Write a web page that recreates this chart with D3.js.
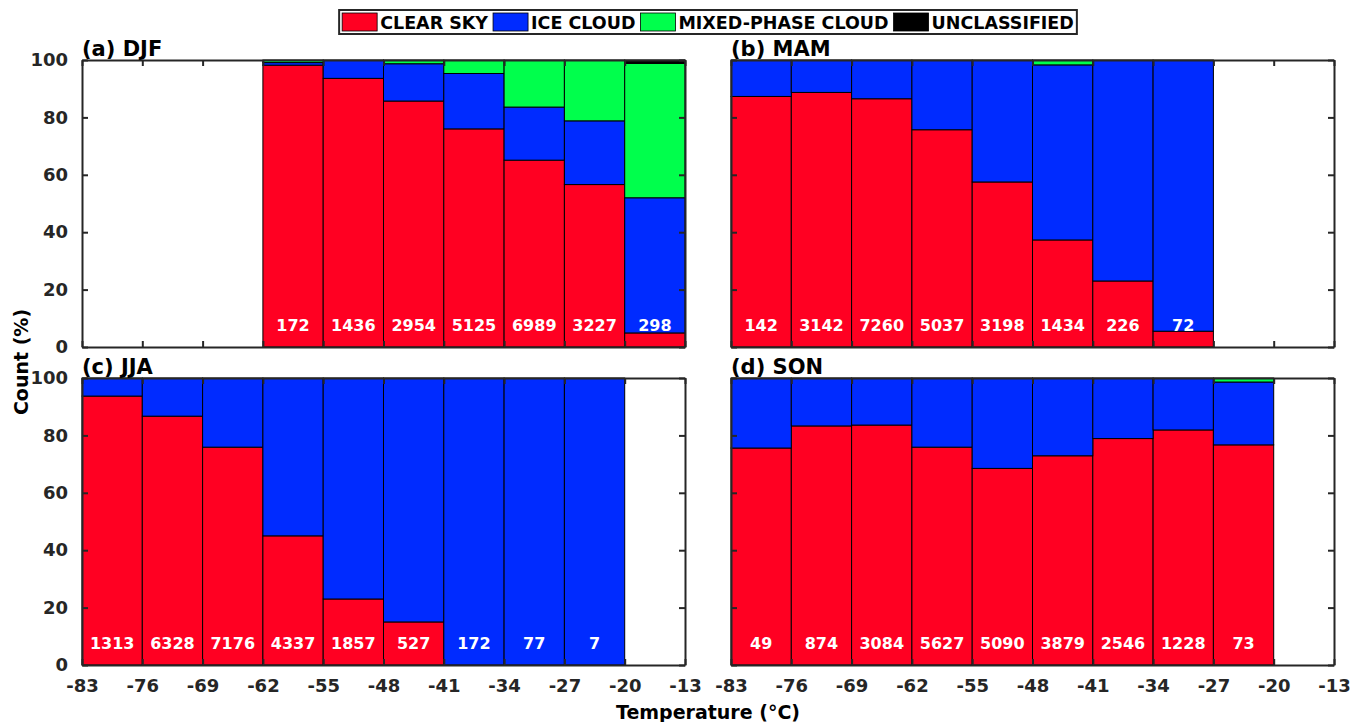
<!DOCTYPE html>
<html>
<head>
<meta charset="utf-8">
<script src="https://cdn.jsdelivr.net/npm/d3@7"></script>
<style>
  html, body { margin: 0; padding: 0; background: #fff; }
  svg { display: block; font-family: "DejaVu Sans", sans-serif; font-weight: bold; }
</style>
</head>
<body>
<svg id="chart" width="1354" height="722"></svg>
<script>
// ---- data ----
const binStarts = [-83, -76, -69, -62, -55, -48, -41, -34, -27, -20];
const binWidth = 7;
const xTicks = [-83, -76, -69, -62, -55, -48, -41, -34, -27, -20, -13];
const xTickLabels = ["-83", "-76", "-69", "-62", "-55", "-48", "-41", "-34", "-27", "-20", "-13"];
const yTicks = [0, 20, 40, 60, 80, 100];
const categories = ["CLEAR SKY", "ICE CLOUD", "MIXED-PHASE CLOUD", "UNCLASSIFIED"];
const colors = ["#ff0022", "#002bff", "#00ff4c", "#000000"];
const seasonTitles = ["(a) DJF", "(b) MAM", "(c) JJA", "(d) SON"];

const djfClear   = [0, 0, 0, 98.2, 93.6, 85.7, 76.0, 65.1, 56.6, 4.9];
const djfIce     = [0, 0, 0, 0.9, 6.4, 13.0, 19.3, 18.5, 22.2, 47.1];
const djfMixed   = [0, 0, 0, 0.9, 0, 1.3, 4.7, 16.4, 21.2, 46.8];
const djfUncl    = [0, 0, 0, 0, 0, 0, 0, 0, 0, 1.2];
const djfCounts  = [null, null, null, 172, 1436, 2954, 5125, 6989, 3227, 298];

const mamClear   = [87.3, 88.7, 86.5, 75.7, 57.5, 37.3, 23.0, 5.5, 0, 0];
const mamIce     = [12.7, 11.3, 13.5, 24.3, 42.5, 61.0, 77.0, 94.5, 0, 0];
const mamMixed   = [0, 0, 0, 0, 0, 1.7, 0, 0, 0, 0];
const mamUncl    = [0, 0, 0, 0, 0, 0, 0, 0, 0, 0];
const mamCounts  = [142, 3142, 7260, 5037, 3198, 1434, 226, 72, null, null];

const jjaClear   = [93.7, 86.7, 75.9, 45.0, 23.0, 15.0, 0, 0, 0, 0];
const jjaIce     = [6.3, 13.3, 24.1, 55.0, 77.0, 85.0, 100, 100, 100, 0];
const jjaMixed   = [0, 0, 0, 0, 0, 0, 0, 0, 0, 0];
const jjaUncl    = [0, 0, 0, 0, 0, 0, 0, 0, 0, 0];
const jjaCounts  = [1313, 6328, 7176, 4337, 1857, 527, 172, 77, 7, null];

const sonClear   = [75.6, 83.3, 83.6, 75.9, 68.5, 72.9, 78.9, 81.9, 76.7, 0];
const sonIce     = [24.4, 16.7, 16.4, 24.1, 31.5, 27.1, 21.1, 18.1, 21.9, 0];
const sonMixed   = [0, 0, 0, 0, 0, 0, 0, 0, 1.4, 0];
const sonUncl    = [0, 0, 0, 0, 0, 0, 0, 0, 0, 0];
const sonCounts  = [49, 874, 3084, 5627, 5090, 3879, 2546, 1228, 73, null];

const seasons = [
  { title: seasonTitles[0], series: [djfClear, djfIce, djfMixed, djfUncl], counts: djfCounts },
  { title: seasonTitles[1], series: [mamClear, mamIce, mamMixed, mamUncl], counts: mamCounts },
  { title: seasonTitles[2], series: [jjaClear, jjaIce, jjaMixed, jjaUncl], counts: jjaCounts },
  { title: seasonTitles[3], series: [sonClear, sonIce, sonMixed, sonUncl], counts: sonCounts }
];

// ---- layout ----
const panels = [
  { x0: 82,  x1: 685,  y0: 60,  y1: 347, yLabels: true,  xLabels: false },
  { x0: 731, x1: 1334, y0: 60,  y1: 347, yLabels: false, xLabels: false },
  { x0: 82,  x1: 685,  y0: 378, y1: 665, yLabels: true,  xLabels: true },
  { x0: 731, x1: 1334, y0: 378, y1: 665, yLabels: false, xLabels: true }
];
const axisColor = "#262626";
const tickLen = 6;

const svg = d3.select("#chart");

seasons.forEach((s, i) => {
  const p = panels[i];
  const x = d3.scaleLinear().domain([-83, -13]).range([p.x0, p.x1]);
  const y = d3.scaleLinear().domain([0, 100]).range([p.y1, p.y0]);
  const g = svg.append("g");

  const rows = binStarts.map((b, k) => {
    const o = { start: b, count: s.counts[k] };
    categories.forEach((c, j) => o[c] = s.series[j][k]);
    return o;
  }).filter(r => r.count !== null);
  const stack = d3.stack().keys(categories)(rows);

  stack.forEach((layer, j) => {
    g.append("g").selectAll("rect")
      .data(layer.filter(d => d[1] - d[0] > 0))
      .join("rect")
      .attr("x", d => x(d.data.start))
      .attr("width", d => x(d.data.start + binWidth) - x(d.data.start))
      .attr("y", d => y(d[1]))
      .attr("height", d => y(d[0]) - y(d[1]))
      .attr("fill", colors[j])
      .attr("stroke", "#000")
      .attr("stroke-width", 1);
  });

  g.append("g").selectAll("text")
    .data(rows)
    .join("text")
    .attr("x", d => x(d.start + binWidth / 2))
    .attr("y", y(5.5))
    .attr("text-anchor", "middle")
    .attr("fill", "#fff")
    .attr("font-size", 16)
    .text(d => d.count);

  const xFmt = d => xTickLabels[xTicks.indexOf(d)];
  const bottom = d3.axisBottom(x).tickValues(xTicks).tickSizeInner(-tickLen).tickSizeOuter(0)
    .tickFormat(p.xLabels ? xFmt : () => "").tickPadding(14);
  const top = d3.axisTop(x).tickValues(xTicks).tickSizeInner(-tickLen).tickSizeOuter(0).tickFormat(() => "");
  const left = d3.axisLeft(y).tickValues(yTicks).tickSizeInner(-tickLen).tickSizeOuter(0)
    .tickFormat(p.yLabels ? (d => String(d)) : () => "").tickPadding(14);
  const right = d3.axisRight(y).tickValues(yTicks).tickSizeInner(-tickLen).tickSizeOuter(0).tickFormat(() => "");

  const gb = g.append("g").attr("transform", `translate(0,${p.y1})`).call(bottom);
  const gt = g.append("g").attr("transform", `translate(0,${p.y0})`).call(top);
  const gl = g.append("g").attr("transform", `translate(${p.x0},0)`).call(left);
  const gr = g.append("g").attr("transform", `translate(${p.x1},0)`).call(right);
  [gb, gt, gl, gr].forEach(a => {
    a.select(".domain").attr("stroke", axisColor).attr("stroke-width", 2);
    a.selectAll(".tick line").attr("stroke", axisColor).attr("stroke-width", 2);
    a.selectAll(".tick text").attr("fill", axisColor).attr("font-size", 18)
      .attr("font-family", "DejaVu Sans").attr("font-weight", "bold");
  });

  svg.append("text")
    .attr("x", p.x0)
    .attr("y", p.y0 - 4)
    .attr("font-size", 21)
    .attr("fill", "#000")
    .text(s.title);
});

svg.append("text")
  .attr("transform", "translate(28,362) rotate(-90)")
  .attr("text-anchor", "middle")
  .attr("font-size", 19)
  .attr("fill", "#000")
  .text("Count (%)");
svg.append("text")
  .attr("x", 708)
  .attr("y", 719)
  .attr("text-anchor", "middle")
  .attr("font-size", 19)
  .attr("fill", "#000")
  .text("Temperature (°C)");

// legend
const leg = svg.append("g");
const legBox = leg.append("rect").attr("fill", "#fff").attr("stroke", axisColor).attr("stroke-width", 2);
let cx = 0;
const swW = 35, swH = 18;
categories.forEach((c, j) => {
  leg.append("rect").attr("x", cx).attr("y", 13).attr("width", swW).attr("height", swH)
    .attr("fill", colors[j]).attr("stroke", "#000").attr("stroke-width", 0.8);
  const t = leg.append("text").attr("x", cx + swW + 3).attr("y", 29).attr("font-size", 17.5)
    .attr("fill", "#000").text(c);
  cx += swW + 3 + t.node().getComputedTextLength() + 5;
});
const legW = cx - 5;
const legX = 708 - legW / 2;
leg.attr("transform", `translate(${legX},0)`);
legBox.attr("x", -3).attr("y", 10).attr("width", legW + 6).attr("height", 24);
</script>
</body>
</html>
